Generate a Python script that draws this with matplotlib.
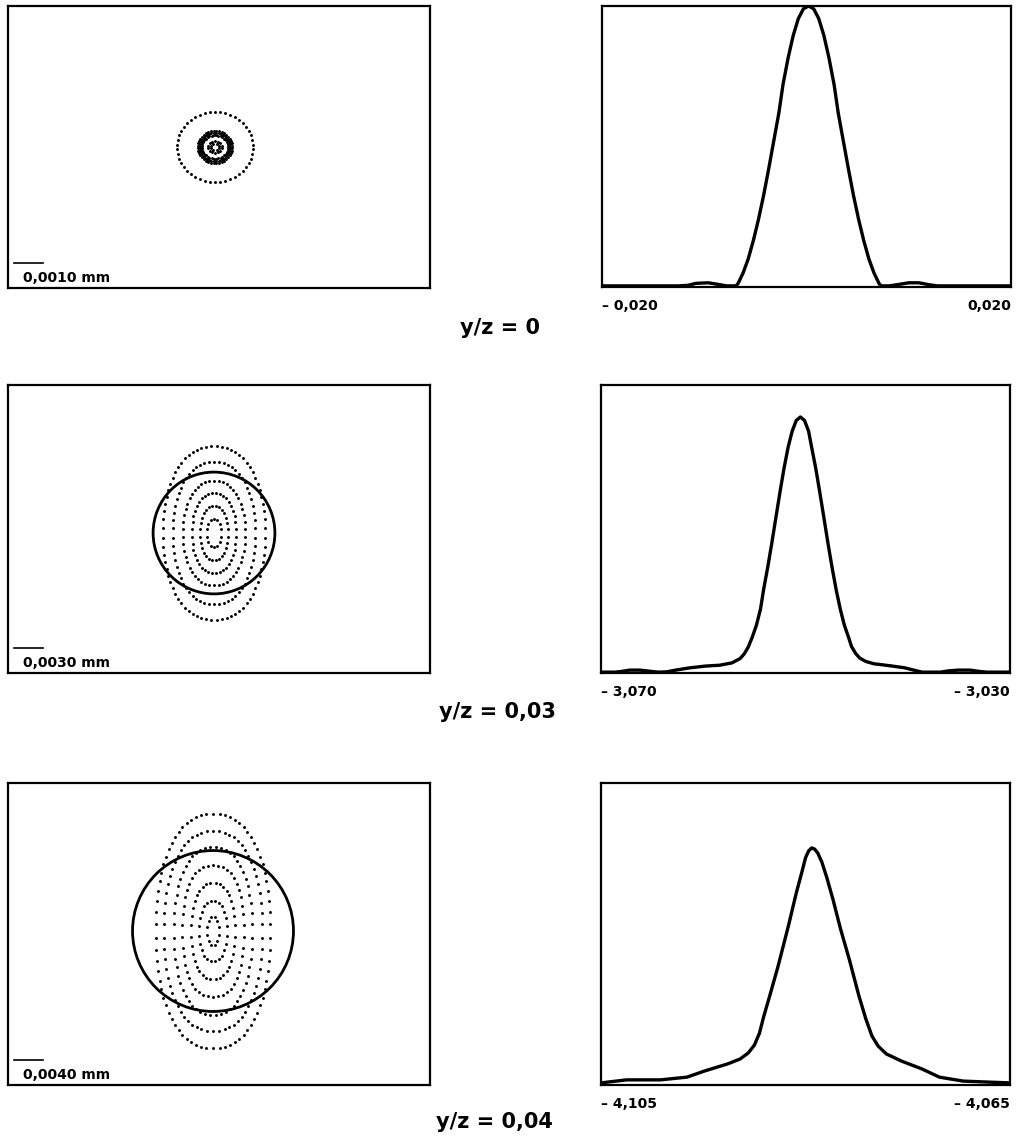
import numpy as np
import matplotlib.pyplot as plt

# ---- spot diagrams (left column) ----
bar_mm = [0.0010, 0.0030, 0.0040]
bar_text = ["0,0010 mm", "0,0030 mm", "0,0040 mm"]

# ring half-width / half-height in mm and dots per ring
ring_a_1 = [0.00131, 0.00059, 0.00052, 0.00045, 0.00024, 0.00014]
ring_b_1 = [0.00121, 0.00055, 0.00048, 0.00041, 0.00021, 0.00010]
ring_n_1 = [46, 40, 40, 36, 14, 8]

ring_a_2 = [0.00528, 0.00424, 0.00321, 0.00228, 0.00145, 0.00072]
ring_b_2 = [0.00900, 0.00734, 0.00538, 0.00414, 0.00279, 0.00145]
ring_n_2 = [72, 62, 50, 40, 28, 14]

ring_a_3 = [0.00786, 0.00676, 0.00538, 0.00428, 0.00303, 0.00193, 0.00083]
ring_b_3 = [0.01614, 0.01379, 0.01159, 0.00910, 0.00662, 0.00414, 0.00193]
ring_n_3 = [74, 66, 56, 46, 36, 24, 12]

circle_r = [None, 0.0063, 0.0111]

# ---- line profiles (right column) ----
prof_x_1 = [-0.0200, -0.0125, -0.0116, -0.0108, -0.0096, -0.0086, -0.0078,
            -0.0069, -0.0067, -0.0062, -0.0057, -0.0052, -0.0047, -0.0042, -0.0037,
            -0.0032, -0.0027, -0.0023, -0.0018, -0.0013, -0.0008, -0.0003,
            0.0002,
            0.0007, 0.0012, 0.0017, 0.0022, 0.0027, 0.0031, 0.0036, 0.0041,
            0.0046, 0.0051, 0.0056, 0.0061, 0.0066, 0.0071, 0.0073,
            0.0081, 0.0090, 0.0100, 0.0110, 0.0120, 0.0128, 0.0200]
prof_y_1 = [0.004, 0.004, 0.006, 0.013, 0.015, 0.009, 0.004,
            0.004, 0.012, 0.050, 0.100, 0.165, 0.240, 0.325, 0.420,
            0.520, 0.620, 0.720, 0.815, 0.895, 0.955, 0.990,
            1.000,
            0.990, 0.955, 0.895, 0.815, 0.720, 0.620, 0.520, 0.420,
            0.325, 0.240, 0.165, 0.100, 0.050, 0.012, 0.004,
            0.004, 0.009, 0.015, 0.015, 0.008, 0.004, 0.004]

prof_x_2 = [-3.0700, -3.0686, -3.0679, -3.0672, -3.0662, -3.0652, -3.0644, -3.0636,
            -3.0627, -3.0613, -3.0598, -3.0584, -3.0572, -3.0564, -3.0560, -3.0556,
            -3.0552, -3.0548, -3.0544, -3.0541, -3.0537, -3.0533, -3.0529, -3.0525,
            -3.0521, -3.0517, -3.0513, -3.0509, -3.0505,
            -3.0501, -3.0497, -3.0494, -3.0490, -3.0486, -3.0482, -3.0478, -3.0474,
            -3.0470, -3.0466, -3.0462, -3.0458, -3.0455, -3.0451, -3.0447, -3.0441,
            -3.0433, -3.0417, -3.0403, -3.0393, -3.0386, -3.0368, -3.0361, -3.0351,
            -3.0339, -3.0331, -3.0323, -3.0300]
prof_y_2 = [0.003, 0.003, 0.006, 0.010, 0.010, 0.006, 0.003, 0.004,
            0.010, 0.018, 0.024, 0.027, 0.035, 0.050, 0.066, 0.090,
            0.125, 0.166, 0.222, 0.289, 0.366, 0.450, 0.539, 0.627,
            0.711, 0.784, 0.840, 0.877, 0.889,
            0.877, 0.840, 0.784, 0.711, 0.627, 0.539, 0.450, 0.366,
            0.289, 0.222, 0.166, 0.125, 0.092, 0.068, 0.052, 0.040,
            0.032, 0.025, 0.018, 0.009, 0.003, 0.003, 0.007, 0.010,
            0.010, 0.006, 0.003, 0.003]

prof_x_3 = [-4.1050, -4.1025, -4.0992, -4.0966, -4.0949, -4.0926, -4.0914, -4.0906,
            -4.0900, -4.0895, -4.0891, -4.0885, -4.0877, -4.0867, -4.0859, -4.0853,
            -4.0850, -4.0847, -4.0844, -4.0841, -4.0838, -4.0834, -4.0829, -4.0823,
            -4.0816, -4.0807, -4.0798, -4.0791, -4.0785, -4.0779, -4.0771, -4.0756,
            -4.0736, -4.0719, -4.0696, -4.0674, -4.0650]
prof_y_3 = [0.007, 0.017, 0.017, 0.026, 0.046, 0.070, 0.086, 0.106,
            0.132, 0.172, 0.225, 0.295, 0.391, 0.523, 0.636, 0.712,
            0.752, 0.775, 0.785, 0.781, 0.768, 0.738, 0.685, 0.613,
            0.520, 0.414, 0.298, 0.219, 0.162, 0.129, 0.103, 0.079,
            0.053, 0.026, 0.013, 0.010, 0.007]

prof_ticks = [["\u2013 0,020", "0,020"], ["\u2013 3,070", "\u2013 3,030"], ["\u2013 4,105", "\u2013 4,065"]]
yz_text = ["y/z = 0", "y/z = 0,03", "y/z = 0,04"]

# ---- layout in pixels ----
W, H = 1017, 1140
left_px = [(8, 6, 430, 288), (8, 385, 430, 673), (8, 783, 430, 1085)]
right_px = [(602, 6, 1011, 287), (601, 385, 1010, 673), (601, 783, 1010, 1085)]
spot_center_px = [(207, 141), (206, 140), (205, 154)]
ring_power = [2.0, 2.2, 2.3]
yz_pos = [(500, 328), (497, 712), (494, 1122)]
BAR_PX = 29.0


def rect(b):
    x0, y0, x1, y1 = b
    return [x0 / W, 1 - y1 / H, (x1 - x0) / W, (y1 - y0) / H]


def frame(ax):
    for s in ax.spines.values():
        s.set_linewidth(1.6)
        s.set_color('black')


def ring_dots(a, b, n, p):
    t = np.linspace(0, 2 * np.pi, n, endpoint=False) + np.pi / n
    c, s = np.cos(t), np.sin(t)
    x = a * np.sign(c) * np.abs(c) ** (2.0 / p)
    y = b * np.sign(s) * np.abs(s) ** (2.0 / p)
    return x, y


fig = plt.figure(figsize=(W / 100, H / 100), dpi=100)

rings = [(ring_a_1, ring_b_1, ring_n_1), (ring_a_2, ring_b_2, ring_n_2), (ring_a_3, ring_b_3, ring_n_3)]
profiles = [(prof_x_1, prof_y_1), (prof_x_2, prof_y_2), (prof_x_3, prof_y_3)]

for i in range(3):
    # spot diagram, axes in mm so the scale bar is true to size
    ax = fig.add_axes(rect(left_px[i]))
    x0, y0, x1, y1 = left_px[i]
    mmpp = bar_mm[i] / BAR_PX
    cx, cy = spot_center_px[i]
    xlo, xhi = -cx * mmpp, (x1 - x0 - cx) * mmpp
    ylo, yhi = -cy * mmpp, (y1 - y0 - cy) * mmpp
    ax.set_xlim(xlo, xhi)
    ax.set_ylim(ylo, yhi)
    ra, rb, rn = rings[i]
    for a, b, n in zip(ra, rb, rn):
        x, y = ring_dots(a, b, n, ring_power[i])
        ax.plot(x, y, 'o', color='black', ms=2.1, mew=0)
    if circle_r[i] is not None:
        ax.add_patch(plt.Circle((0, 0), circle_r[i], fill=False, lw=2.0, color='black'))
    bx = xlo + 6 * mmpp
    by = ylo + 25 * mmpp
    ax.plot([bx, bx + bar_mm[i]], [by, by], color='black', lw=1.2)
    ax.text(xlo + 15 * mmpp, ylo + 6 * mmpp, bar_text[i], fontsize=10,
            fontweight='bold', ha='left', va='baseline')
    ax.set_xticks([])
    ax.set_yticks([])
    frame(ax)

    # line profile
    ax = fig.add_axes(rect(right_px[i]))
    px, py = profiles[i]
    ax.plot(px, py, color='black', lw=2.4, solid_joinstyle='round')
    ax.set_xlim(px[0], px[-1])
    ax.set_ylim(0, 1)
    ax.set_yticks([])
    ax.set_xticks([px[0], px[-1]])
    ax.set_xticklabels(prof_ticks[i], fontsize=10, fontweight='bold')
    lab = ax.get_xticklabels()
    lab[0].set_horizontalalignment('left')
    lab[1].set_horizontalalignment('right')
    ax.tick_params(axis='x', length=0, pad=9)
    frame(ax)

    tx, ty = yz_pos[i]
    fig.text(tx / W, 1 - ty / H, yz_text[i], fontsize=15, fontweight='bold',
             ha='center', va='center')

fig.savefig('out.png', dpi=100)
